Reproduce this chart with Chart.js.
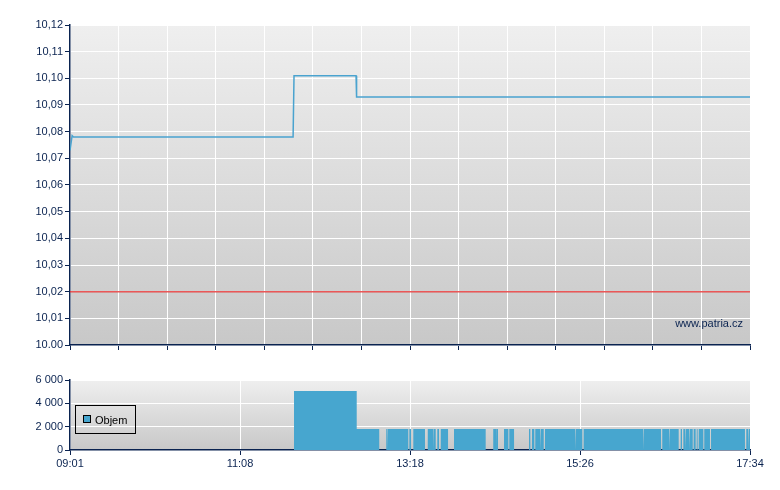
<!DOCTYPE html>
<html>
<head>
<meta charset="utf-8">
<title>Cena a objem</title>
<script src="https://cdn.jsdelivr.net/npm/chart.js@4.4.1/dist/chart.umd.min.js"></script>
<style>
    body { margin: 0; background: #fff; }
    .chart-box { position: absolute; left: 0; }
    #priceBox { top: 0; }
    #volumeBox { top: 370px; }
</style>
</head>
<body>
<div class="chart-box" id="priceBox"><canvas id="priceChart" width="780" height="370"></canvas></div>
<div class="chart-box" id="volumeBox"><canvas id="volumeChart" width="780" height="120"></canvas></div>
<script>
// Time is kept in minutes since 09:01 (17:34 = 513)
const sessionLength = 513;

// Price line
const priceTimes = [0, 1.6, 2.6, 168.3, 169.0, 215.8, 216.2, 513];
const priceValues = [10.073, 10.0785, 10.078, 10.078, 10.101, 10.101, 10.093, 10.093];
const refPrice = 10.02;

const priceTickValues = [10.00, 10.01, 10.02, 10.03, 10.04, 10.05, 10.06, 10.07, 10.08, 10.09, 10.10, 10.11, 10.12];
const priceTickLabels = ['10.00', '10,01', '10,02', '10,03', '10,04', '10,05', '10,06', '10,07', '10,08', '10,09', '10,10', '10,11', '10,12'];
const priceGridCount = 15;

// Volume blocks (from, to in minutes)
const volFrom = [169.0, 216.3, 233.9, 238.6, 239.9, 256.0, 259.0, 269.9, 274.6, 277.1, 279.7, 289.7, 319.3, 322.1, 327.4, 331.4, 346.3, 348.5, 351.0, 355.3, 358.3, 381.7, 387.5, 433.0, 446.8, 452.6, 460.7, 462.7, 464.7, 467.7, 470.5, 472.8, 474.3, 478.5, 483.6, 510.2, 512.2];
const volTo = [216.3, 233.3, 234.6, 239.4, 255.2, 257.3, 267.8, 274.1, 275.9, 278.4, 285.2, 313.6, 321.9, 322.9, 330.7, 335.0, 347.3, 350.3, 354.6, 357.4, 381.0, 386.5, 432.3, 445.9, 451.9, 459.2, 461.7, 464.0, 467.0, 469.8, 472.0, 473.5, 477.8, 482.8, 509.2, 511.5, 513];
const volValues = [5050, 1800, 1800, 1800, 1800, 1800, 1800, 1800, 1800, 1800, 1800, 1800, 1800, 1800, 1800, 1800, 1800, 1800, 1800, 1800, 1800, 1800, 1800, 1800, 1800, 1800, 1800, 1800, 1800, 1800, 1800, 1800, 1800, 1800, 1800, 1800, 1800];

const volTickValues = [0, 2000, 4000, 6000];
const volTickLabels = ['0', '2 000', '4 000', '6 000'];
const timeLabels = ['09:01', '11:08', '13:18', '15:26', '17:34'];

const navy = '#0a2350';
const lineBlue = '#4aa3cf';
const volBlue = '#47a6cf';

Chart.defaults.font.family = '"Liberation Sans", Arial, sans-serif';
Chart.defaults.font.size = 11;
Chart.defaults.color = navy;

// Gray gradient behind the plot area
const plotBackground = {
    id: 'plotBackground',
    beforeDraw(chart) {
        const { ctx, chartArea: a } = chart;
        const g = ctx.createLinearGradient(0, a.top, 0, a.bottom);
        g.addColorStop(0, '#efefef');
        g.addColorStop(1, '#c8c8c8');
        ctx.save();
        ctx.fillStyle = g;
        ctx.fillRect(a.left, a.top, a.right - a.left, a.bottom - a.top);
        ctx.restore();
    }
};

function xAxis(tickCount, labels, height) {
    return {
        type: 'linear',
        min: 0,
        max: sessionLength,
        afterBuildTicks: scale => {
            scale.ticks = Array.from({ length: tickCount }, (_, i) => ({ value: sessionLength * i / (tickCount - 1) }));
        },
        afterFit: scale => { scale.height = height; },
        ticks: {
            autoSkip: false,
            maxRotation: 0,
            padding: 2,
            callback: (v, i) => labels ? labels[i] : ''
        },
        grid: { color: '#fff', tickColor: navy, tickLength: 5 },
        border: { color: navy, width: 1.5 }
    };
}

function yAxis(min, max, values, labels) {
    return {
        min: min,
        max: max,
        afterBuildTicks: scale => {
            scale.ticks = values.map(v => ({ value: v }));
        },
        afterFit: scale => { scale.width = 70; },
        ticks: {
            padding: 2,
            callback: (v, i) => labels[i]
        },
        grid: { color: '#fff', tickColor: navy, tickLength: 5 },
        border: { color: navy, width: 1.5 }
    };
}

// Price chart
const watermark = {
    id: 'watermark',
    afterDraw(chart) {
        const { ctx, chartArea: a } = chart;
        ctx.save();
        ctx.font = '11px "Liberation Sans", Arial, sans-serif';
        ctx.fillStyle = navy;
        ctx.textAlign = 'right';
        ctx.textBaseline = 'alphabetic';
        ctx.fillText('www.patria.cz', a.right - 7, a.bottom - 18);
        ctx.restore();
    }
};

const priceCtx = document.getElementById('priceChart').getContext('2d');
const priceChart = new Chart(priceCtx, {
    type: 'line',
    data: {
        datasets: [{
            label: 'Cena',
            data: priceTimes.map((t, i) => ({ x: t, y: priceValues[i] })),
            borderColor: lineBlue,
            borderWidth: 1.5,
            pointRadius: 0,
            tension: 0
        }, {
            label: 'Reference',
            data: [{ x: 0, y: refPrice }, { x: sessionLength, y: refPrice }],
            borderColor: 'rgba(230, 45, 45, 0.8)',
            borderWidth: 1.5,
            pointRadius: 0
        }]
    },
    options: {
        responsive: false,
        animation: false,
        events: [],
        layout: { padding: { top: 25, right: 30, left: 0, bottom: 0 } },
        plugins: {
            legend: { display: false },
            tooltip: { enabled: false }
        },
        scales: {
            x: xAxis(priceGridCount, null, 25),
            y: yAxis(10.00, 10.12, priceTickValues, priceTickLabels)
        }
    },
    plugins: [plotBackground, watermark]
});

// Volume chart
const volumeLegend = {
    id: 'volumeLegend',
    afterDraw(chart) {
        const { ctx, chartArea: a } = chart;
        const x = a.left + 5;
        const y = a.top + 25;
        ctx.save();
        ctx.strokeStyle = '#000';
        ctx.lineWidth = 1;
        ctx.strokeRect(x + 0.5, y + 0.5, 60, 28);
        ctx.fillStyle = volBlue;
        ctx.fillRect(x + 8, y + 10, 8, 8);
        ctx.strokeRect(x + 8.5, y + 10.5, 7, 7);
        ctx.fillStyle = '#000';
        ctx.font = '11px "Liberation Sans", Arial, sans-serif';
        ctx.textBaseline = 'middle';
        ctx.fillText(chart.data.datasets[0].label, x + 20, y + 15.5);
        ctx.restore();
    }
};

const volumePoints = [];
volFrom.forEach((s, i) => {
    volumePoints.push({ x: s, y: 0 }, { x: s, y: volValues[i] }, { x: volTo[i], y: volValues[i] }, { x: volTo[i], y: 0 });
});

const volumeCtx = document.getElementById('volumeChart').getContext('2d');
const volumeChart = new Chart(volumeCtx, {
    type: 'line',
    data: {
        datasets: [{
            label: 'Objem',
            data: volumePoints,
            borderColor: 'rgba(0, 0, 0, 0)',
            borderWidth: 0,
            backgroundColor: volBlue,
            fill: 'origin',
            pointRadius: 0,
            tension: 0
        }]
    },
    options: {
        responsive: false,
        animation: false,
        events: [],
        layout: { padding: { top: 10, right: 30, left: 0, bottom: 0 } },
        plugins: {
            legend: { display: false },
            tooltip: { enabled: false }
        },
        scales: {
            x: xAxis(timeLabels.length, timeLabels, 40),
            y: yAxis(0, 6000, volTickValues, volTickLabels)
        }
    },
    plugins: [plotBackground, volumeLegend]
});
</script>
</body>
</html>
